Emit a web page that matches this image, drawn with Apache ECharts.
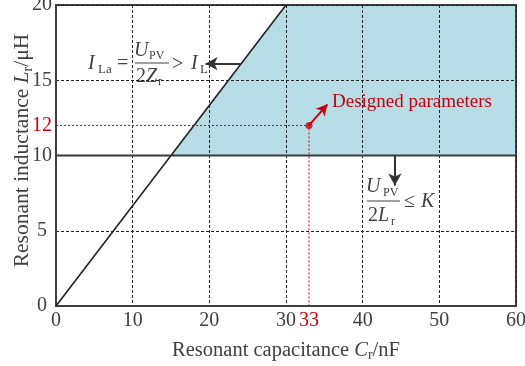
<!DOCTYPE html>
<html>
<head>
<meta charset="utf-8">
<script src="https://cdn.jsdelivr.net/npm/echarts@6/dist/echarts.min.js"></script>
<style>
  html, body { margin: 0; padding: 0; background: #fff; }
  #chart { width: 525px; height: 366px; }
</style>
</head>
<body>
<div id="chart"></div>
<script>
// Boundary line I_La = I_L : L_r grows linearly with C_r
const boundaryC = [0, 30];
const boundaryL = [0, 20];

// Feasible design region (shaded)
const regionC = [15, 30, 60, 60];
const regionL = [10, 20, 20, 10];

// Upper limit L_r = 10 uH
const limitC = [0, 60];
const limitL = [10, 10];

// Chosen operating point
const designC = 33;
const designL = 12;

// Axis tick labels
const xTicks = [0, 10, 20, 30, 33, 40, 50, 60];
const yTicks = [0, 5, 10, 12, 15, 20];

const RED = '#c8000e';
const INK = '#404040';
const SERIF = '"Liberation Serif", "Times New Roman", serif';

const chart = echarts.init(document.getElementById('chart'), null, { renderer: 'canvas' });

const zip = (a, b) => a.map((v, i) => [v, b[i]]);

const dashed = { color: '#222', width: 1, type: [3, 2] };

function nameStyle(size) {
  return {
    fontFamily: SERIF, fontSize: size, color: INK, lineHeight: size + 4,
    rich: {
      i: { fontFamily: SERIF, fontSize: size, fontStyle: 'italic', color: INK, lineHeight: size + 4 },
      s: { fontFamily: SERIF, fontSize: 14, color: INK, lineHeight: 14, verticalAlign: 'bottom' }
    }
  };
}

chart.setOption({
  backgroundColor: '#fff',
  animation: false,
  grid: {
    left: 56, right: 9, top: 5, bottom: 60,
    outerBoundsMode: 'none', containLabel: false,
    show: true, borderColor: INK, borderWidth: 2, backgroundColor: 'transparent'
  },
  xAxis: {
    type: 'value', min: 0, max: 60, interval: 10,
    name: 'Resonant capacitance {i|C}{s|r}/nF',
    nameLocation: 'middle', nameGap: 32, nameMoveOverlap: false,
    nameTextStyle: nameStyle(20.5),
    axisLine: { show: true, lineStyle: { color: INK, width: 2 } },
    axisTick: { show: false },
    splitLine: { show: true, lineStyle: dashed },
    axisLabel: {
      customValues: xTicks,
      fontFamily: SERIF, fontSize: 20, color: INK, margin: 5,
      formatter: v => v === designC ? '{r|' + v + '}' : String(v),
      rich: { r: { fontFamily: SERIF, fontSize: 20, color: RED } }
    }
  },
  yAxis: {
    type: 'value', min: 0, max: 20, interval: 5,
    name: 'Resonant inductance {i|L}{s|r}/μH',
    nameLocation: 'middle', nameGap: 21, nameMoveOverlap: false,
    nameTextStyle: Object.assign(nameStyle(21.5), { padding: [0, 0, 0, 10] }),
    axisLine: { show: true, lineStyle: { color: INK, width: 2 } },
    axisTick: { show: false },
    splitLine: { show: true, lineStyle: dashed },
    axisLabel: {
      customValues: yTicks,
      fontFamily: SERIF, fontSize: 20, color: INK, margin: 14, align: 'center',
      formatter: v => v === designL ? '{r|' + v + '}' : String(v),
      rich: { r: { fontFamily: SERIF, fontSize: 20, color: RED } }
    }
  },
  series: [
    {
      // shaded feasible region
      type: 'custom', z: -1, silent: true,
      data: [0],
      renderItem: (params, api) => ({
        type: 'polygon',
        shape: { points: zip(regionC, regionL).map(p => api.coord(p)) },
        style: { fill: '#b6dce5' }
      })
    },
    {
      type: 'line', data: zip(boundaryC, boundaryL), symbol: 'none',
      lineStyle: { color: '#222', width: 1.6 }
    },
    {
      type: 'line', data: zip(limitC, limitL), symbol: 'none',
      lineStyle: { color: '#3a3a3a', width: 2.2 }
    },
    {
      // guide lines to the design point
      type: 'line', data: [[0, designL], [designC, designL], [designC, 0]], symbol: 'none',
      lineStyle: { color: RED, width: 1, type: [2, 2] }
    },
    {
      type: 'scatter', data: [[designC, designL]], symbolSize: 7,
      itemStyle: { color: RED }, z: 5,
      markLine: {
        silent: true, symbol: ['none', 'arrow'], symbolSize: [9, 11],
        label: { show: false },
        lineStyle: { color: RED, width: 2, type: 'solid' },
        data: [[{ coord: [designC, designL] }, { coord: [35.4, 13.4] }]]
      }
    },
    {
      // direction arrows for the two constraints
      type: 'line', data: [], symbol: 'none',
      markLine: {
        silent: true, symbol: ['none', 'arrow'], symbolSize: [10, 12],
        label: { show: false },
        lineStyle: { color: '#333', width: 2, type: 'solid' },
        data: [
          [{ coord: [24.1, 16.1] }, { coord: [19.5, 16.1] }],
          [{ coord: [44.2, 10] }, { coord: [44.2, 8.0] }]
        ]
      }
    }
  ],
  graphic: [
    { type: 'text', style: { x: 332, y: 102, text: 'Designed parameters', font: '19px ' + SERIF, fill: RED, textVerticalAlign: 'middle' } },

    // I_La = U_PV / (2 Z_r) > I_L
    { type: 'text', style: { x: 88, y: 64, text: 'I', font: 'italic 20px ' + SERIF, fill: INK, textVerticalAlign: 'middle' } },
    { type: 'text', style: { x: 98, y: 70, text: 'La', font: '13px ' + SERIF, fill: INK, textVerticalAlign: 'middle' } },
    { type: 'text', style: { x: 117, y: 64, text: '=', font: '20px ' + SERIF, fill: INK, textVerticalAlign: 'middle' } },
    { type: 'text', style: { x: 134, y: 51, text: 'U', font: 'italic 20px ' + SERIF, fill: INK, textVerticalAlign: 'middle' } },
    { type: 'text', style: { x: 149, y: 56, text: 'PV', font: '12px ' + SERIF, fill: INK, textVerticalAlign: 'middle' } },
    { type: 'line', shape: { x1: 135, y1: 63, x2: 169, y2: 63 }, style: { stroke: INK, lineWidth: 1 } },
    { type: 'text', style: { x: 136, y: 77, text: '2', font: '20px ' + SERIF, fill: INK, textVerticalAlign: 'middle' } },
    { type: 'text', style: { x: 146, y: 77, text: 'Z', font: 'italic 20px ' + SERIF, fill: INK, textVerticalAlign: 'middle' } },
    { type: 'text', style: { x: 158, y: 82, text: 'r', font: '12px ' + SERIF, fill: INK, textVerticalAlign: 'middle' } },
    { type: 'text', style: { x: 172, y: 65, text: '>', font: '20px ' + SERIF, fill: INK, textVerticalAlign: 'middle' } },
    { type: 'text', style: { x: 191, y: 64, text: 'I', font: 'italic 20px ' + SERIF, fill: INK, textVerticalAlign: 'middle' } },
    { type: 'text', style: { x: 200, y: 70, text: 'L', font: '13px ' + SERIF, fill: INK, textVerticalAlign: 'middle' } },

    // U_PV / (2 L_r) <= K
    { type: 'text', style: { x: 366, y: 187, text: 'U', font: 'italic 20px ' + SERIF, fill: INK, textVerticalAlign: 'middle' } },
    { type: 'text', style: { x: 383, y: 193, text: 'PV', font: '12px ' + SERIF, fill: INK, textVerticalAlign: 'middle' } },
    { type: 'line', shape: { x1: 367, y1: 201, x2: 400, y2: 201 }, style: { stroke: INK, lineWidth: 1 } },
    { type: 'text', style: { x: 368, y: 216, text: '2', font: '20px ' + SERIF, fill: INK, textVerticalAlign: 'middle' } },
    { type: 'text', style: { x: 378, y: 216, text: 'L', font: 'italic 20px ' + SERIF, fill: INK, textVerticalAlign: 'middle' } },
    { type: 'text', style: { x: 391, y: 222, text: 'r', font: '12px ' + SERIF, fill: INK, textVerticalAlign: 'middle' } },
    { type: 'text', style: { x: 404, y: 202, text: '≤', font: '20px ' + SERIF, fill: INK, textVerticalAlign: 'middle' } },
    { type: 'text', style: { x: 421, y: 202, text: 'K', font: 'italic 20px ' + SERIF, fill: INK, textVerticalAlign: 'middle' } }
  ]
});
</script>
</body>
</html>
